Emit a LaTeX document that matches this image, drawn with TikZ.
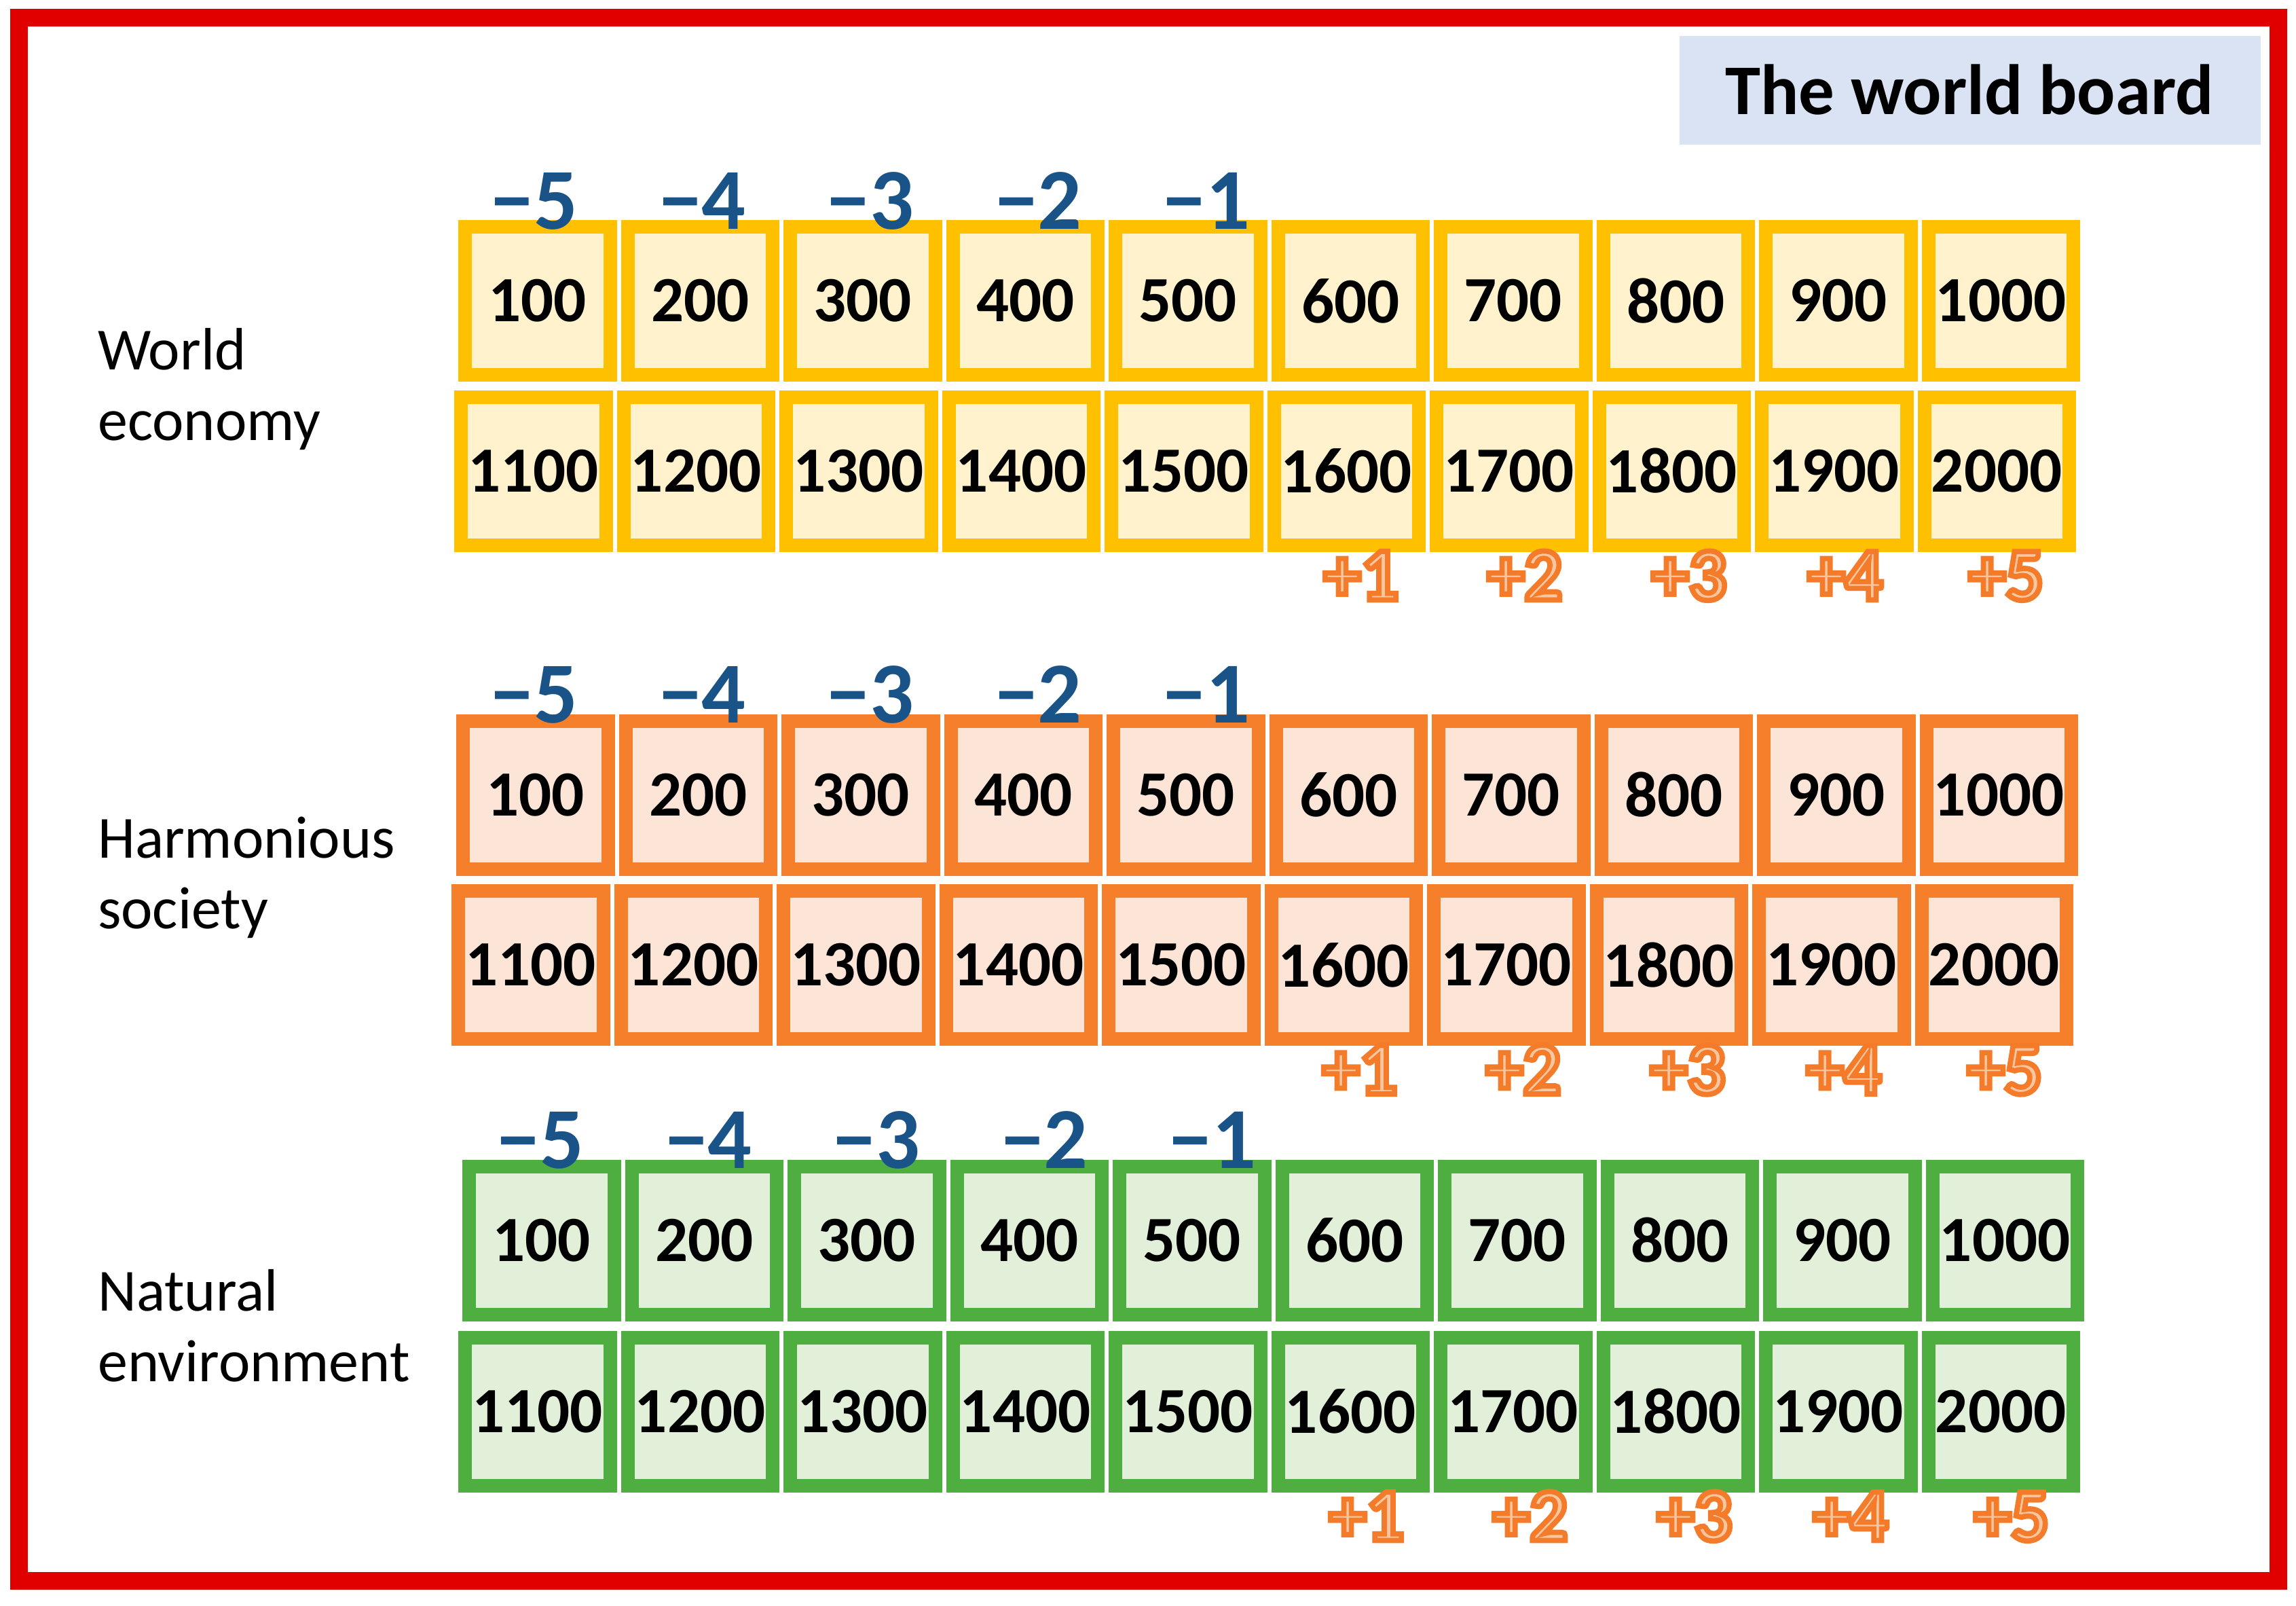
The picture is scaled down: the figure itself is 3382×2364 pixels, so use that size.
\documentclass[tikz,border=0pt]{standalone}
\usepackage{fontspec}
\setmainfont{Carlito}
\newfontface\plusface[RawFeature={embolden=7}]{Carlito Bold}
\definecolor{frameRed}{HTML}{E00000}
\definecolor{titleBlue}{HTML}{DAE3F3}
\definecolor{yBorder}{HTML}{FFC000}
\definecolor{yFill}{HTML}{FFF2CC}
\definecolor{oBorder}{HTML}{F57F2A}
\definecolor{oFill}{HTML}{FCE4D6}
\definecolor{gBorder}{HTML}{4EAE40}
\definecolor{gFill}{HTML}{E2F0D9}
\definecolor{minusBlue}{HTML}{1A5388}
\definecolor{plusOrange}{HTML}{F47B2A}
\definecolor{plusFill}{HTML}{F9C6A0}
\newcommand\plustext[1]{\special{pdf:code 0.957 0.482 0.165 RG}#1}
\tikzset{
  cellbase/.style={line width=20pt, minimum width=213.5pt, minimum height=218pt, inner sep=0pt, font=\bfseries\fontsize{95}{100}\selectfont},
  ycell/.style={cellbase, draw=yBorder, fill=yFill},
  ocell/.style={cellbase, draw=oBorder, fill=oFill},
  gcell/.style={cellbase, draw=gBorder, fill=gFill},
  minuslab/.style={anchor=base, inner sep=0pt, text=minusBlue, font=\bfseries\fontsize{128}{140}\selectfont},
  pluslab/.style={anchor=base, inner sep=0pt, text=plusFill, font=\plusface\fontsize{110}{120}\selectfont},
  grouplab/.style={anchor=base west, inner sep=0pt, font=\fontsize{88}{104}\selectfont},
  titlebox/.style={fill=titleBlue, minimum width=856pt, minimum height=160pt, inner sep=0pt},
  titletext/.style={anchor=base, inner sep=0pt, font=\bfseries\fontsize{105}{120}\selectfont},
}
\newcommand\boardgroup[8]{%
  \foreach \i in {0,...,9} {
    \pgfmathtruncatemacro\va{100*(\i+1)}
    \pgfmathtruncatemacro\vb{100*(\i+11)}
    \node[#2] (#1a\i) at ({#3+116.75+239.5*\i},#4) {\va};
    \node[#2] (#1b\i) at ({#5+116.75+239.5*\i},#6) {\vb};
  }
  \foreach \i in {0,...,4} {
    \pgfmathtruncatemacro\m{5-\i}
    \node[minuslab] (#1m\i) at ({#7+247.5*\i},{#4-106}) {−\m};
  }
  \foreach \px [count=\k] in {2005,2246,2488,2718,2955} {
    \node[pluslab] (#1p\k) at ({\px+#8},{#6+190}) {\plustext{+\k}};
  }
}
\begin{document}
\begin{tikzpicture}[x=1pt,y=-1pt]
\fill[white] (0,0) rectangle (3382,2364);
\useasboundingbox (0,0) rectangle (3382,2364);
\draw[frameRed, line width=26pt] (28,26) rectangle (3356,2328);
\node[titlebox] (tbox) at (2902,133) {};
\node[titletext] (ttext) at (2901,168) {The world board};
\boardgroup{y}{ycell}{675}{443}{669}{693.5}{787}{0}
\boardgroup{o}{ocell}{672}{1170.5}{665}{1421}{787}{-2}
\boardgroup{g}{gcell}{681}{1826.5}{675}{2078.5}{796}{8}
\node[grouplab] (l1a) at (144,544) {World};
\node[grouplab] (l1b) at (144,648) {economy};
\node[grouplab] (l2a) at (144,1263) {Harmonious};
\node[grouplab] (l2b) at (144,1367) {society};
\node[grouplab] (l3a) at (144,1930) {Natural};
\node[grouplab] (l3b) at (144,2034) {environment};
\end{tikzpicture}
\end{document}
